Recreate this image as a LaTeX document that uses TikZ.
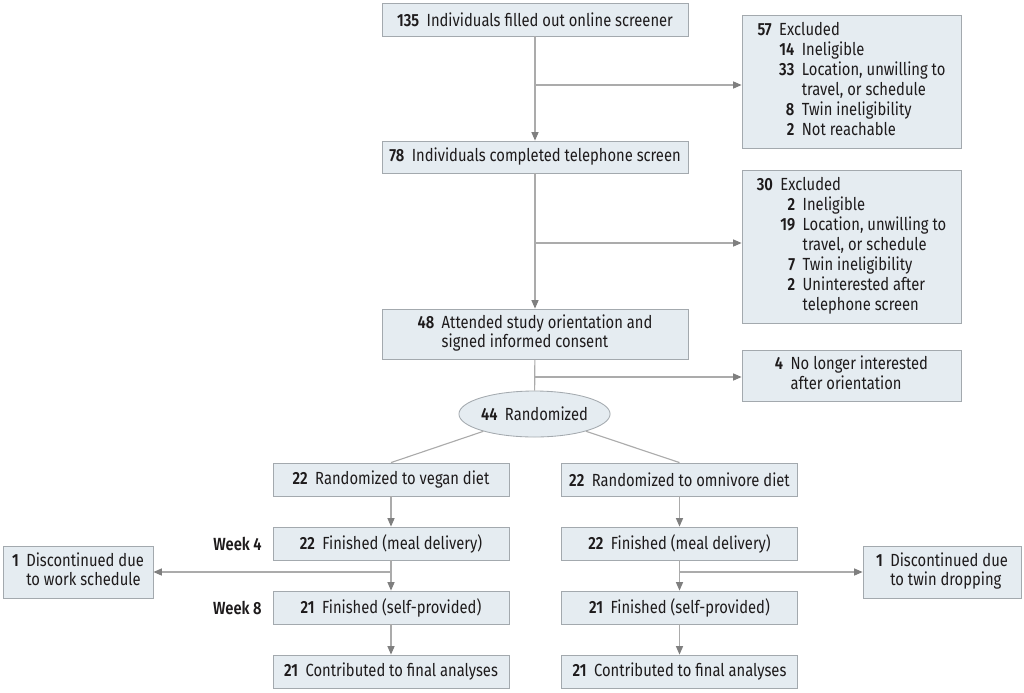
\documentclass[tikz,border=0pt]{standalone}
\usepackage{fontspec}
\setmainfont{Fira Sans}[FakeStretch=0.84,BoldFont={* SemiBold}]
\usetikzlibrary{arrows.meta,shapes.geometric}

\definecolor{boxfill}{HTML}{E5ECF1}
\definecolor{boxline}{HTML}{A3A9AE}
\definecolor{lineg}{HTML}{ABABAB}
\definecolor{tipg}{HTML}{7F7F7F}
\definecolor{txt}{HTML}{1E1B1C}
\newdimen\pxu \pxu=0.025cm
\newcommand{\nb}[1]{\textbf{#1}\hspace{5.3pt}}

\begin{document}
\begin{tikzpicture}[x=0.025cm,y=-0.025cm,>={Triangle[length=6pt,width=5pt,color=tipg]},
    font=\fontsize{12.5}{14.2}\selectfont,text=txt,
    box/.style={draw=boxline,fill=boxfill,line width=0.6pt,inner sep=0pt,minimum height=33\pxu},
    wide/.style={box,minimum width=306\pxu},
    side/.style={box,minimum width=219\pxu},
    arm/.style={box,minimum width=236\pxu},
    link/.style={draw=lineg,line width=0.8pt},
    flow/.style={link,->}]

\useasboundingbox (0,0) rectangle (1024,692);

% screening
\node[wide] (screen) at (535,19.5) {\nb{135}Individuals filled out online screener};
\node[side,minimum height=133\pxu] (excl1) at (851.5,81.5) {\begin{tabular}{@{}r@{\hspace{5.3pt}}r@{\hspace{5.3pt}}l@{}}
  \textbf{57} & \multicolumn{2}{@{}l@{}}{Excluded}\\
   & \textbf{14} & Ineligible\\
   & \textbf{33} & Location, unwilling to\\
   & & travel, or schedule\\
   & \textbf{8} & Twin ineligibility\\
   & \textbf{2} & Not reachable
  \end{tabular}};
\node[wide,minimum height=32\pxu] (phone) at (535,157) {\nb{78}Individuals completed telephone screen};
\node[side,minimum height=153\pxu] (excl2) at (851.5,246.5) {\begin{tabular}{@{}r@{\hspace{5.3pt}}r@{\hspace{5.3pt}}l@{}}
  \textbf{30} & \multicolumn{2}{@{}l@{}}{Excluded}\\
   & \textbf{2} & Ineligible\\
   & \textbf{19} & Location, unwilling to\\
   & & travel, or schedule\\
   & \textbf{7} & Twin ineligibility\\
   & \textbf{2} & Uninterested after\\
   & & telephone screen
  \end{tabular}};
\node[wide,minimum height=50\pxu] (consent) at (535,334) {\begin{tabular}{@{}r@{\hspace{5.3pt}}l@{}}
  \textbf{48} & Attended study orientation and\\
   & signed informed consent
  \end{tabular}};
\node[side,minimum height=51\pxu] (later) at (851.5,375.5) {\begin{tabular}{@{}r@{\hspace{5.3pt}}l@{}}
  \textbf{4} & No longer interested\\
   & after orientation
  \end{tabular}};
\node[ellipse,draw=boxline,fill=boxfill,line width=0.6pt,inner sep=0pt,minimum width=145\pxu,minimum height=46\pxu] (rand) at (534.5,414) {\nb{44}Randomized};

% arms
\node[arm] (vegan) at (391,479.5) {\nb{22}Randomized to vegan diet};
\node[arm] (omni) at (679.5,479.5) {\nb{22}Randomized to omnivore diet};
\node[arm] (vfour) at (391,543.5) {\nb{22}Finished (meal delivery)};
\node[arm] (ofour) at (679.5,543.5) {\nb{22}Finished (meal delivery)};
\node[arm] (veight) at (391,607.5) {\nb{21}Finished (self-provided)};
\node[arm] (oeight) at (679.5,607.5) {\nb{21}Finished (self-provided)};
\node[arm] (vfinal) at (391,671.5) {\nb{21}Contributed to final analyses};
\node[arm] (ofinal) at (679.5,671.5) {\nb{21}Contributed to final analyses};
\node[box,minimum width=150\pxu,minimum height=52\pxu] (dropl) at (78,572) {\begin{tabular}{@{}r@{\hspace{5.3pt}}l@{}}
  \textbf{1} & Discontinued due\\
   & to work schedule
  \end{tabular}};
\node[box,minimum width=158\pxu,minimum height=52\pxu] (dropr) at (942,572) {\begin{tabular}{@{}r@{\hspace{5.3pt}}l@{}}
  \textbf{1} & Discontinued due\\
   & to twin dropping
  \end{tabular}};
\node[anchor=east,inner sep=0pt] (wkfour) at (262,544) {\textbf{Week 4}};
\node[anchor=east,inner sep=0pt] (wkeight) at (262,608) {\textbf{Week 8}};

% connectors
\coordinate (j1) at (535,85);
\coordinate (j2) at (535,243);
\coordinate (j3) at (535,377);
\coordinate (j4) at (391,572);
\coordinate (j5) at (679.5,572);

\draw[flow] (screen) -- (phone);
\draw[flow] (j1) -- (j1 -| excl1.west);
\draw[flow] (phone) -- (consent);
\draw[flow] (j2) -- (j2 -| excl2.west);
\draw[link] (consent) -- (rand);
\draw[flow] (j3) -- (j3 -| later.west);
\draw[link] (rand) -- (vegan.north);
\draw[link] (rand) -- (omni.north);
\draw[flow] (vegan) -- (vfour);
\draw[flow] (vfour) -- (veight);
\draw[flow] (veight) -- (vfinal);
\draw[flow] (omni) -- (ofour);
\draw[flow] (ofour) -- (oeight);
\draw[flow] (oeight) -- (ofinal);
\draw[flow] (j4) -- (dropl);
\draw[flow] (j5) -- (dropr);

\end{tikzpicture}
\end{document}
